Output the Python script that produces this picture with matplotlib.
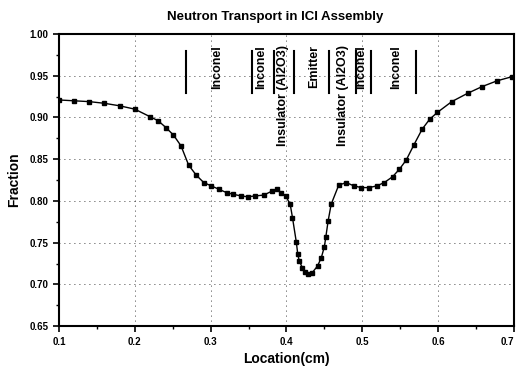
import numpy as np
import matplotlib
matplotlib.use('Agg')
import matplotlib.pyplot as plt
from matplotlib.ticker import MultipleLocator

plt.rcParams['font.family'] = ['Liberation Sans', 'DejaVu Sans']

# location (cm) and fraction
location = [0.100, 0.120, 0.140, 0.160, 0.180, 0.200, 0.220, 0.231, 0.241, 0.251,
            0.261, 0.271, 0.281, 0.291, 0.301, 0.311, 0.321, 0.330, 0.340, 0.349,
            0.359, 0.370, 0.3815, 0.388, 0.393, 0.399, 0.405, 0.408, 0.413, 0.415,
            0.417, 0.421, 0.425, 0.429, 0.434, 0.441, 0.446, 0.450, 0.452, 0.455,
            0.459, 0.469, 0.479, 0.489, 0.499, 0.509, 0.519, 0.529, 0.540, 0.549,
            0.558, 0.568, 0.579, 0.589, 0.599, 0.618, 0.639, 0.658, 0.678, 0.698]
fraction = [0.921, 0.920, 0.919, 0.917, 0.914, 0.910, 0.901, 0.896, 0.888, 0.879,
            0.866, 0.843, 0.831, 0.822, 0.818, 0.814, 0.810, 0.808, 0.806, 0.805,
            0.806, 0.807, 0.812, 0.814, 0.810, 0.806, 0.796, 0.780, 0.751, 0.736,
            0.728, 0.720, 0.715, 0.713, 0.714, 0.722, 0.732, 0.745, 0.757, 0.776,
            0.796, 0.819, 0.822, 0.818, 0.816, 0.816, 0.818, 0.822, 0.829, 0.838,
            0.849, 0.867, 0.886, 0.898, 0.906, 0.919, 0.929, 0.937, 0.944, 0.949]

# material boundaries (vertical bars) and region labels
boundaries = [0.268, 0.354, 0.384, 0.4105, 0.4566, 0.492, 0.512, 0.571]
region_names = ['Inconel', 'Inconel', 'Insulator (Al2O3)', 'Emitter',
                'Insulator (Al2O3)', 'Inconel', 'Inconel']
region_pos = [0.309, 0.367, 0.395, 0.437, 0.474, 0.499, 0.545]

fig = plt.figure(figsize=(5.17, 3.74), dpi=100)
ax = fig.add_axes([0.114, 0.128, 0.880, 0.781])

ax.plot(location, fraction, color='black', lw=1.0, marker='s', ms=3.2)

for b in boundaries:
    ax.plot([b, b], [0.929, 0.980], color='black', lw=1.5)
for name, xp in zip(region_names, region_pos):
    ax.text(xp, 0.987, name, rotation=90, ha='center', va='top',
            fontsize=9, fontweight='bold')

ax.set_xlim(0.1, 0.7)
ax.set_ylim(0.65, 1.0)
ax.xaxis.set_major_locator(MultipleLocator(0.1))
ax.xaxis.set_minor_locator(MultipleLocator(0.05))
ax.yaxis.set_major_locator(MultipleLocator(0.05))
ax.yaxis.set_minor_locator(MultipleLocator(0.025))
ax.set_xticks([0.1, 0.2, 0.3, 0.4, 0.5, 0.6, 0.7])
ax.set_xticklabels(['0.1', '0.2', '0.3', '0.4', '0.5', '0.6', '0.7'])
ax.set_yticks(np.arange(0.65, 1.001, 0.05))
ax.set_yticklabels(['0.65', '0.70', '0.75', '0.80', '0.85', '0.90', '0.95', '1.00'])
ax.tick_params(axis='both', which='major', labelsize=7, length=4, width=1.2)
ax.tick_params(axis='both', which='minor', length=2.5, width=1)
for lab in ax.get_xticklabels() + ax.get_yticklabels():
    lab.set_fontweight('bold')
# last label sits at the right edge of the figure
ax.get_xticklabels()[-1].set_horizontalalignment('right')

ax.grid(True, which='major', color='black', lw=0.6, linestyle=(0, (1, 5)))
for s in ax.spines.values():
    s.set_linewidth(1.5)

ax.set_xlabel('Location(cm)', fontsize=10, fontweight='bold', labelpad=4)
ax.set_ylabel('Fraction', fontsize=10, fontweight='bold', labelpad=6)
fig.text(0.532, 0.955, 'Neutron Transport in ICI Assembly', ha='center',
         va='center', fontsize=9.5, fontweight='bold')

fig.savefig('out.png', dpi=100)
